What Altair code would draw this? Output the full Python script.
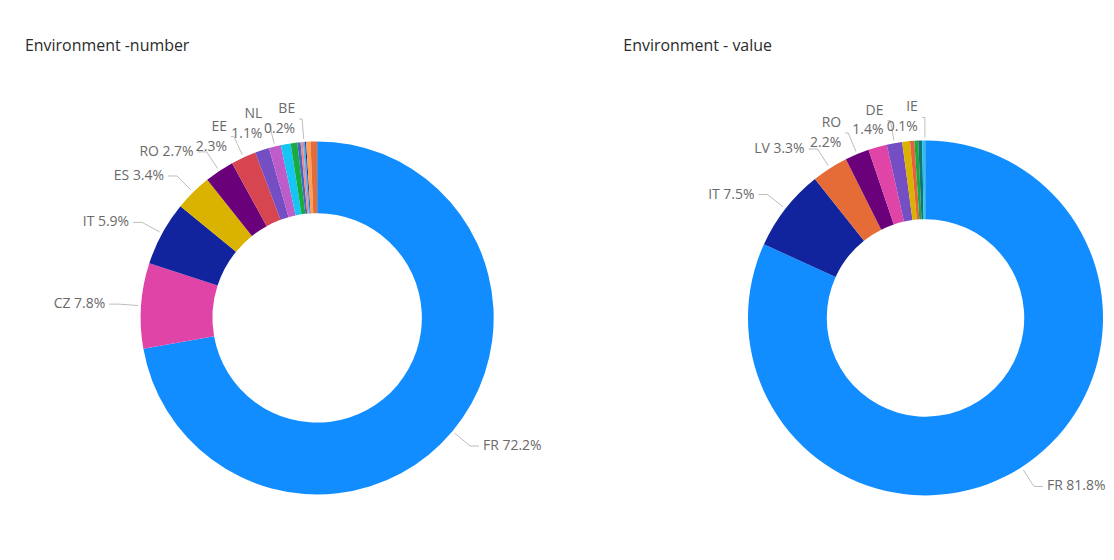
import altair as alt
import pandas as pd

# ---- Left donut: Environment -number (share of number, %) ----
left_names = ["FR", "CZ", "IT", "ES", "RO", "EE", "PL", "NL", "LT", "HU", "SK", "SI", "BE", "AT", "DE", "LV"]
left_values = [72.2, 7.8, 5.9, 3.4, 2.7, 2.3, 1.3, 1.1, 0.9, 0.6, 0.3, 0.2, 0.2, 0.1, 0.4, 0.6]
left_labeled = ["FR", "CZ", "IT", "ES", "RO", "EE", "NL", "BE"]
left_two_line = ["EE", "NL", "BE"]
left_colors = ["#118DFF", "#E044A7", "#12239E", "#D9B300", "#6B007B", "#D64550", "#744EC2",
               "#BE5DC9", "#15C6F4", "#1AAB40", "#4668C5", "#FF8080", "#5AB4E8", "#12239E",
               "#FFA058", "#E66C37"]

# ---- Right donut: Environment - value (share of value, %) ----
right_names = ["FR", "IT", "LV", "RO", "CZ", "DE", "ES", "EE", "HU", "SK", "LT", "IE"]
right_values = [81.8, 7.5, 3.3, 2.2, 1.7, 1.4, 0.7, 0.4, 0.35, 0.35, 0.2, 0.1]
right_labeled = ["FR", "IT", "LV", "RO", "DE", "IE"]
right_two_line = ["RO", "DE", "IE"]
right_colors = ["#118DFF", "#12239E", "#E66C37", "#6B007B", "#E044A7", "#744EC2", "#D9B300",
                "#E8603C", "#1AAB40", "#197278", "#15C6F4", "#0091D5"]

FONT = "Segoe UI, Open Sans, sans-serif"
LABEL_COLOR = "#6A6A6A"
LINE_COLOR = "#BDBDBD"
TITLE_COLOR = "#2B2B2B"
PANEL_W = 550
PANEL_H = 544
LINE_H = 20


def donut(names, values, colors, labeled, two_line, title, title_x, cx, cy, r_out, r_in):
    df = pd.DataFrame({
        "name": names,
        "value": values,
        "order": list(range(len(names))),
        "show": [n in labeled for n in names],
        "label": [f"{n}\n{v:.1f}%" if n in two_line else f"{n} {v:.1f}%"
                  for n, v in zip(names, values)],
    })
    base = alt.Chart(df)
    arcs = base.mark_arc(innerRadius=r_in, outerRadius=r_out).encode(
        theta=alt.Theta("value:Q", stack=True),
        order=alt.Order("order:Q"),
        color=alt.Color("name:N", scale=alt.Scale(domain=names, range=colors), legend=None),
        x=alt.value(cx),
        y=alt.value(cy),
    )
    geo = (
        base.transform_window(cum="sum(value)", sort=[alt.SortField("order")])
        .transform_joinaggregate(total="sum(value)")
        .transform_filter("datum.show")
        .transform_calculate(mid="2*PI*(datum.cum - datum.value/2)/datum.total")
        .transform_calculate(s="sin(datum.mid)")
        .transform_calculate(c="cos(datum.mid)")
        .transform_calculate(ml="indexof(datum.label, '\\n') >= 0")
        .transform_calculate(ex=f"{cx} + {r_out + 3}*datum.s")
        .transform_calculate(ey=f"{cy} - {r_out + 3}*datum.c")
        .transform_calculate(bx=f"{cx} + {r_out + 23}*datum.s")
        .transform_calculate(by=f"{cy} - {r_out + 23}*datum.c")
        .transform_calculate(hx="datum.bx + (datum.s >= 0 ? 1 : -1) * (datum.ml ? 3 : 9)")
        .transform_calculate(tx="datum.hx + (datum.s >= 0 ? 4 : -4)")
        .transform_calculate(ty=f"datum.by - (datum.ml ? {LINE_H / 2} : 0)")
    )
    seg1 = geo.mark_rule(color=LINE_COLOR, strokeWidth=1).encode(
        x=alt.X("ex:Q", scale=None, axis=None),
        y=alt.Y("ey:Q", scale=None, axis=None),
        x2="bx:Q", y2="by:Q",
    )
    seg2 = geo.mark_rule(color=LINE_COLOR, strokeWidth=1).encode(
        x=alt.X("bx:Q", scale=None, axis=None),
        y=alt.Y("by:Q", scale=None, axis=None),
        x2="hx:Q", y2="by:Q",
    )
    txt_r = geo.transform_filter("datum.s >= 0").mark_text(
        align="left", baseline="middle", lineBreak="\n", lineHeight=LINE_H,
        font=FONT, fontSize=14, color=LABEL_COLOR,
    ).encode(
        x=alt.X("tx:Q", scale=None, axis=None),
        y=alt.Y("ty:Q", scale=None, axis=None),
        text="label:N",
    )
    txt_l = geo.transform_filter("datum.s < 0").mark_text(
        align="right", baseline="middle", lineBreak="\n", lineHeight=LINE_H,
        font=FONT, fontSize=14, color=LABEL_COLOR,
    ).encode(
        x=alt.X("tx:Q", scale=None, axis=None),
        y=alt.Y("ty:Q", scale=None, axis=None),
        text="label:N",
    )
    title_txt = alt.Chart(pd.DataFrame({"t": [title]})).mark_text(
        align="left", baseline="middle", font=FONT, fontSize=16, color=TITLE_COLOR,
    ).encode(x=alt.value(title_x), y=alt.value(37), text="t:N")
    return alt.layer(arcs, seg1, seg2, txt_l, txt_r, title_txt).properties(
        width=PANEL_W, height=PANEL_H
    )


left = donut(left_names, left_values, left_colors, left_labeled, left_two_line,
             "Environment -number", 17, 310, 310, 177, 105)
right = donut(right_names, right_values, right_colors, right_labeled, right_two_line,
              "Environment - value", 67, 370, 310, 178, 99)

chart = (
    alt.hconcat(left, right, spacing=0)
    .resolve_scale(color="independent", theta="independent")
    .properties(padding=0, background="white")
    .configure_view(stroke=None)
)

chart.save("out.html", embed_options={"renderer": "svg", "actions": False})
